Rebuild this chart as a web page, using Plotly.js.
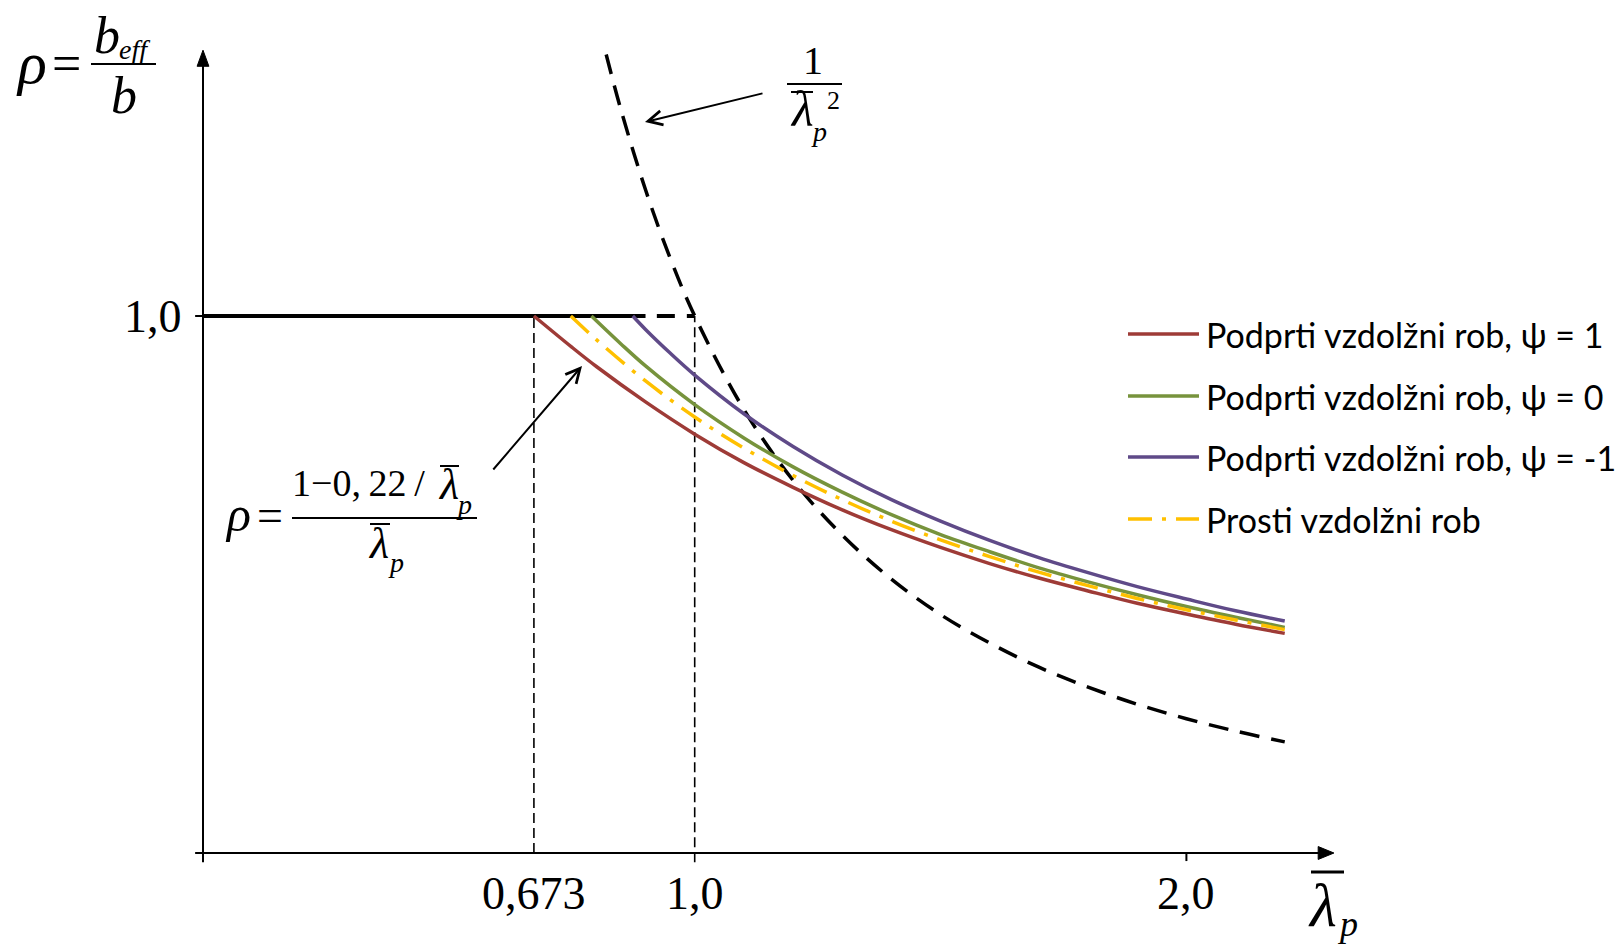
<!DOCTYPE html>
<html>
<head>
<meta charset="utf-8">
<script src="https://cdn.plot.ly/plotly-3.0.1.min.js"></script>
<style>html,body{margin:0;padding:0;background:#fff;}#chart{width:1623px;height:944px;}</style>
</head>
<body>
<div id="chart"></div>
<script>
// ---- data ----
const lamRed = [0.673, 0.75, 0.8, 0.9, 1.0, 1.1, 1.2, 1.3, 1.4, 1.5, 1.6, 1.7, 1.8, 1.9, 2.0, 2.1, 2.2];
const rhoRed = [1.000, 0.942, 0.906, 0.840, 0.780, 0.727, 0.681, 0.639, 0.602, 0.569, 0.539, 0.512, 0.488, 0.465, 0.445, 0.426, 0.409];

const lamGreen = [0.79, 0.85, 0.9, 1.0, 1.1, 1.2, 1.3, 1.4, 1.5, 1.6, 1.7, 1.8, 1.9, 2.0, 2.1, 2.2];
const rhoGreen = [1.000, 0.948, 0.907, 0.835, 0.773, 0.719, 0.672, 0.630, 0.593, 0.561, 0.531, 0.505, 0.481, 0.459, 0.439, 0.420];

const lamPurple = [0.874, 0.9, 0.95, 1.0, 1.1, 1.2, 1.3, 1.4, 1.5, 1.6, 1.7, 1.8, 1.9, 2.0, 2.1, 2.2];
const rhoPurple = [1.000, 0.975, 0.931, 0.890, 0.818, 0.757, 0.704, 0.658, 0.618, 0.582, 0.550, 0.522, 0.496, 0.473, 0.451, 0.432];

const lamYellow = [0.748, 0.8, 0.9, 1.0, 1.1, 1.2, 1.3, 1.4, 1.5, 1.6, 1.7, 1.8, 1.9, 2.0, 2.1, 2.2];
const rhoYellow = [1.000, 0.956, 0.879, 0.812, 0.754, 0.703, 0.658, 0.618, 0.583, 0.552, 0.523, 0.498, 0.474, 0.453, 0.434, 0.416];

const lamHyper = [0.82, 0.85, 0.9, 0.95, 1.0, 1.1, 1.2, 1.3, 1.4, 1.5, 1.6, 1.7, 1.8, 1.9, 2.0, 2.1, 2.2];
const rhoHyper = [1.487, 1.384, 1.235, 1.108, 1.000, 0.826, 0.694, 0.592, 0.510, 0.444, 0.391, 0.346, 0.309, 0.277, 0.250, 0.227, 0.207];

const plateauX = [0, 0.9];
const plateauY = [1, 1];
const plateauDashX = [0.923, 1.0];
const plateauDashY = [1, 1];
const limitX = [0.673, 1.0];

const seriesNames = [
  "Podprti vzdolžni rob, ψ = 1",
  "Podprti vzdolžni rob, ψ = 0",
  "Podprti vzdolžni rob, ψ = -1",
  "Prosti vzdolžni rob"
];
const tickLabelsX = ["0,673", "1,0", "2,0"];
const tickValsX = [0.673, 1.0, 2.0];
const tickLabelY = "1,0";

// ---- geometry ----
const WIDTH = 1623, HEIGHT = 944;
const L = 183, R = 279, T = 37, B = 70;
const PW = WIDTH - L - R, PH = HEIGHT - T - B;
const X0 = 203, XU = 491.7, Y0 = 853, YU = 537;
const xr = [(L - X0) / XU, (L + PW - X0) / XU];
const yr = [(Y0 - (T + PH)) / YU, (Y0 - T) / YU];
const px = v => (v - L) / PW;
const py = v => (HEIGHT - B - v) / PH;

const colors = ["#9E3B37", "#77933C", "#5F4A88", "#FFC000"];
const serif = "Liberation Serif, Times New Roman, serif";
const dashDot = "24px,10px,4px,10px";

const traces = [
  {x: plateauX, y: plateauY, mode: "lines", line: {color: "#000", width: 4}},
  {x: plateauDashX, y: plateauDashY, mode: "lines", line: {color: "#000", width: 4, dash: "18px,12px"}},
  {x: [limitX[0], limitX[0]], y: [0, 1], mode: "lines", line: {color: "#000", width: 1.6, dash: "10px,5px"}},
  {x: [limitX[1], limitX[1]], y: [-0.017, 1], mode: "lines", line: {color: "#000", width: 1.6, dash: "10px,5px"}},
  {x: lamHyper, y: rhoHyper, mode: "lines", line: {color: "#000", width: 3.5, dash: "20px,12px", shape: "spline", smoothing: 1}},
  {x: lamRed, y: rhoRed, mode: "lines", line: {color: colors[0], width: 3.5, shape: "spline", smoothing: 1}},
  {x: lamGreen, y: rhoGreen, mode: "lines", line: {color: colors[1], width: 3.5, shape: "spline", smoothing: 1}},
  {x: lamPurple, y: rhoPurple, mode: "lines", line: {color: colors[2], width: 3.5, shape: "spline", smoothing: 1}},
  {x: lamYellow, y: rhoYellow, mode: "lines", line: {color: colors[3], width: 3.5, dash: dashDot, shape: "spline", smoothing: 1}}
].map(t => Object.assign({showlegend: false, hoverinfo: "skip", cliponaxis: false}, t));

const shapes = [];
// axes
shapes.push({type: "line", xref: "x", yref: "y", x0: -0.016, x1: 2.28, y0: 0, y1: 0, line: {color: "#000", width: 2}});
shapes.push({type: "line", xref: "x", yref: "y", x0: 0, x1: 0, y0: -0.017, y1: 1.47, line: {color: "#000", width: 2}});
shapes.push({type: "path", xref: "x", yref: "y", path: "M 2.300 0 L 2.268 0.012 L 2.268 -0.012 Z", fillcolor: "#000", line: {color: "#000", width: 1}});
shapes.push({type: "path", xref: "x", yref: "y", path: "M 0 1.495 L -0.012 1.465 L 0.012 1.465 Z", fillcolor: "#000", line: {color: "#000", width: 1}});
// ticks
shapes.push({type: "line", xref: "x", yref: "y", x0: 2.0, x1: 2.0, y0: 0, y1: -0.015, line: {color: "#000", width: 2}});
shapes.push({type: "line", xref: "x", yref: "y", x0: -0.016, x1: 0, y0: 1, y1: 1, line: {color: "#000", width: 2}});

// legend samples
const legY = [334, 396, 457, 519];
legY.forEach((yy, i) => {
  shapes.push({type: "line", xref: "paper", yref: "paper", x0: px(1128), x1: px(1199), y0: py(yy), y1: py(yy),
    line: {color: colors[i], width: 3.5, dash: i === 3 ? dashDot : "solid"}});
});

function bar(x0, x1, y, w) {
  shapes.push({type: "line", xref: "paper", yref: "paper", x0: px(x0), x1: px(x1), y0: py(y), y1: py(y), line: {color: "#000", width: w || 2}});
}
bar(91, 156, 64);          // fraction b_eff / b
bar(787, 842, 84);         // fraction 1 / lambda^2
bar(791, 813, 92);         // overbar lambda (top)
bar(292, 477, 518);        // fraction rho formula
bar(440, 459, 466);        // overbar lambda numerator
bar(370, 390, 524);        // overbar lambda denominator
bar(1311, 1344, 872, 3);   // overbar axis label lambda

const ann = [];
function txt(text, x, y, size, opts) {
  ann.push(Object.assign({text: text, xref: "paper", yref: "paper", x: px(x), y: py(y), showarrow: false,
    xanchor: "center", yanchor: "middle", font: {family: serif, size: size, color: "#000"}}, opts || {}));
}
// tick labels
tickValsX.forEach((v, i) => txt(tickLabelsX[i], X0 + v * XU, 893, 46));
txt(tickLabelY, 153, 316, 46);

// y-axis title  rho = b_eff / b
txt("<i>ρ</i>", 31, 63, 60);
txt("=", 66, 64, 52);
txt("<i>b</i>", 107, 36, 52);
txt("<i>eff</i>", 134, 49, 28);
txt("<i>b</i>", 124, 96, 52);

// 1 / lambda_p^2
txt("1", 813, 60, 40);
txt("<i>λ</i>", 802, 109, 50);
txt("<i>p</i>", 819, 131, 28);
txt("2", 833, 101, 26);

// rho = (1 - 0,22 / lambda_p) / lambda_p
txt("<i>ρ</i>", 238, 514, 50);
txt("=", 270, 515, 46);
txt("1−0,\u200922\u2009/", 358, 483, 38);
txt("<i>λ</i>", 448, 484, 44);
txt("<i>p</i>", 464, 505, 28);
txt("<i>λ</i>", 378, 543, 44);
txt("<i>p</i>", 396, 562, 28);

// x-axis title lambda_p
txt("<i>λ</i>", 1322, 905, 62);
txt("<i>p</i>", 1347, 924, 36);

// legend texts
legY.forEach((yy, i) => {
  ann.push({text: seriesNames[i], xref: "paper", yref: "paper", x: px(1204), y: py(yy), showarrow: false,
    xanchor: "left", yanchor: "middle", font: {family: "Lato, Open Sans, sans-serif", size: 34, color: "#000"}});
});

// arrows
ann.push({text: "", xref: "paper", yref: "paper", x: px(645), y: py(122), ax: 119, ay: -29, showarrow: true,
  arrowhead: 5, arrowsize: 1.4, arrowwidth: 2, arrowcolor: "#000"});
ann.push({text: "", xref: "paper", yref: "paper", x: px(582), y: py(366), ax: -90, ay: 105, showarrow: true,
  arrowhead: 5, arrowsize: 1.4, arrowwidth: 2, arrowcolor: "#000"});

const layout = {
  width: WIDTH, height: HEIGHT,
  margin: {l: L, r: R, t: T, b: B, pad: 0},
  paper_bgcolor: "#fff", plot_bgcolor: "#fff",
  showlegend: false,
  xaxis: {range: xr, showgrid: false, zeroline: false, showline: false, showticklabels: false, ticks: "", fixedrange: true},
  yaxis: {range: yr, showgrid: false, zeroline: false, showline: false, showticklabels: false, ticks: "", fixedrange: true},
  shapes: shapes,
  annotations: ann
};
Plotly.newPlot("chart", traces, layout, {staticPlot: true, displayModeBar: false});
</script>
</body>
</html>
